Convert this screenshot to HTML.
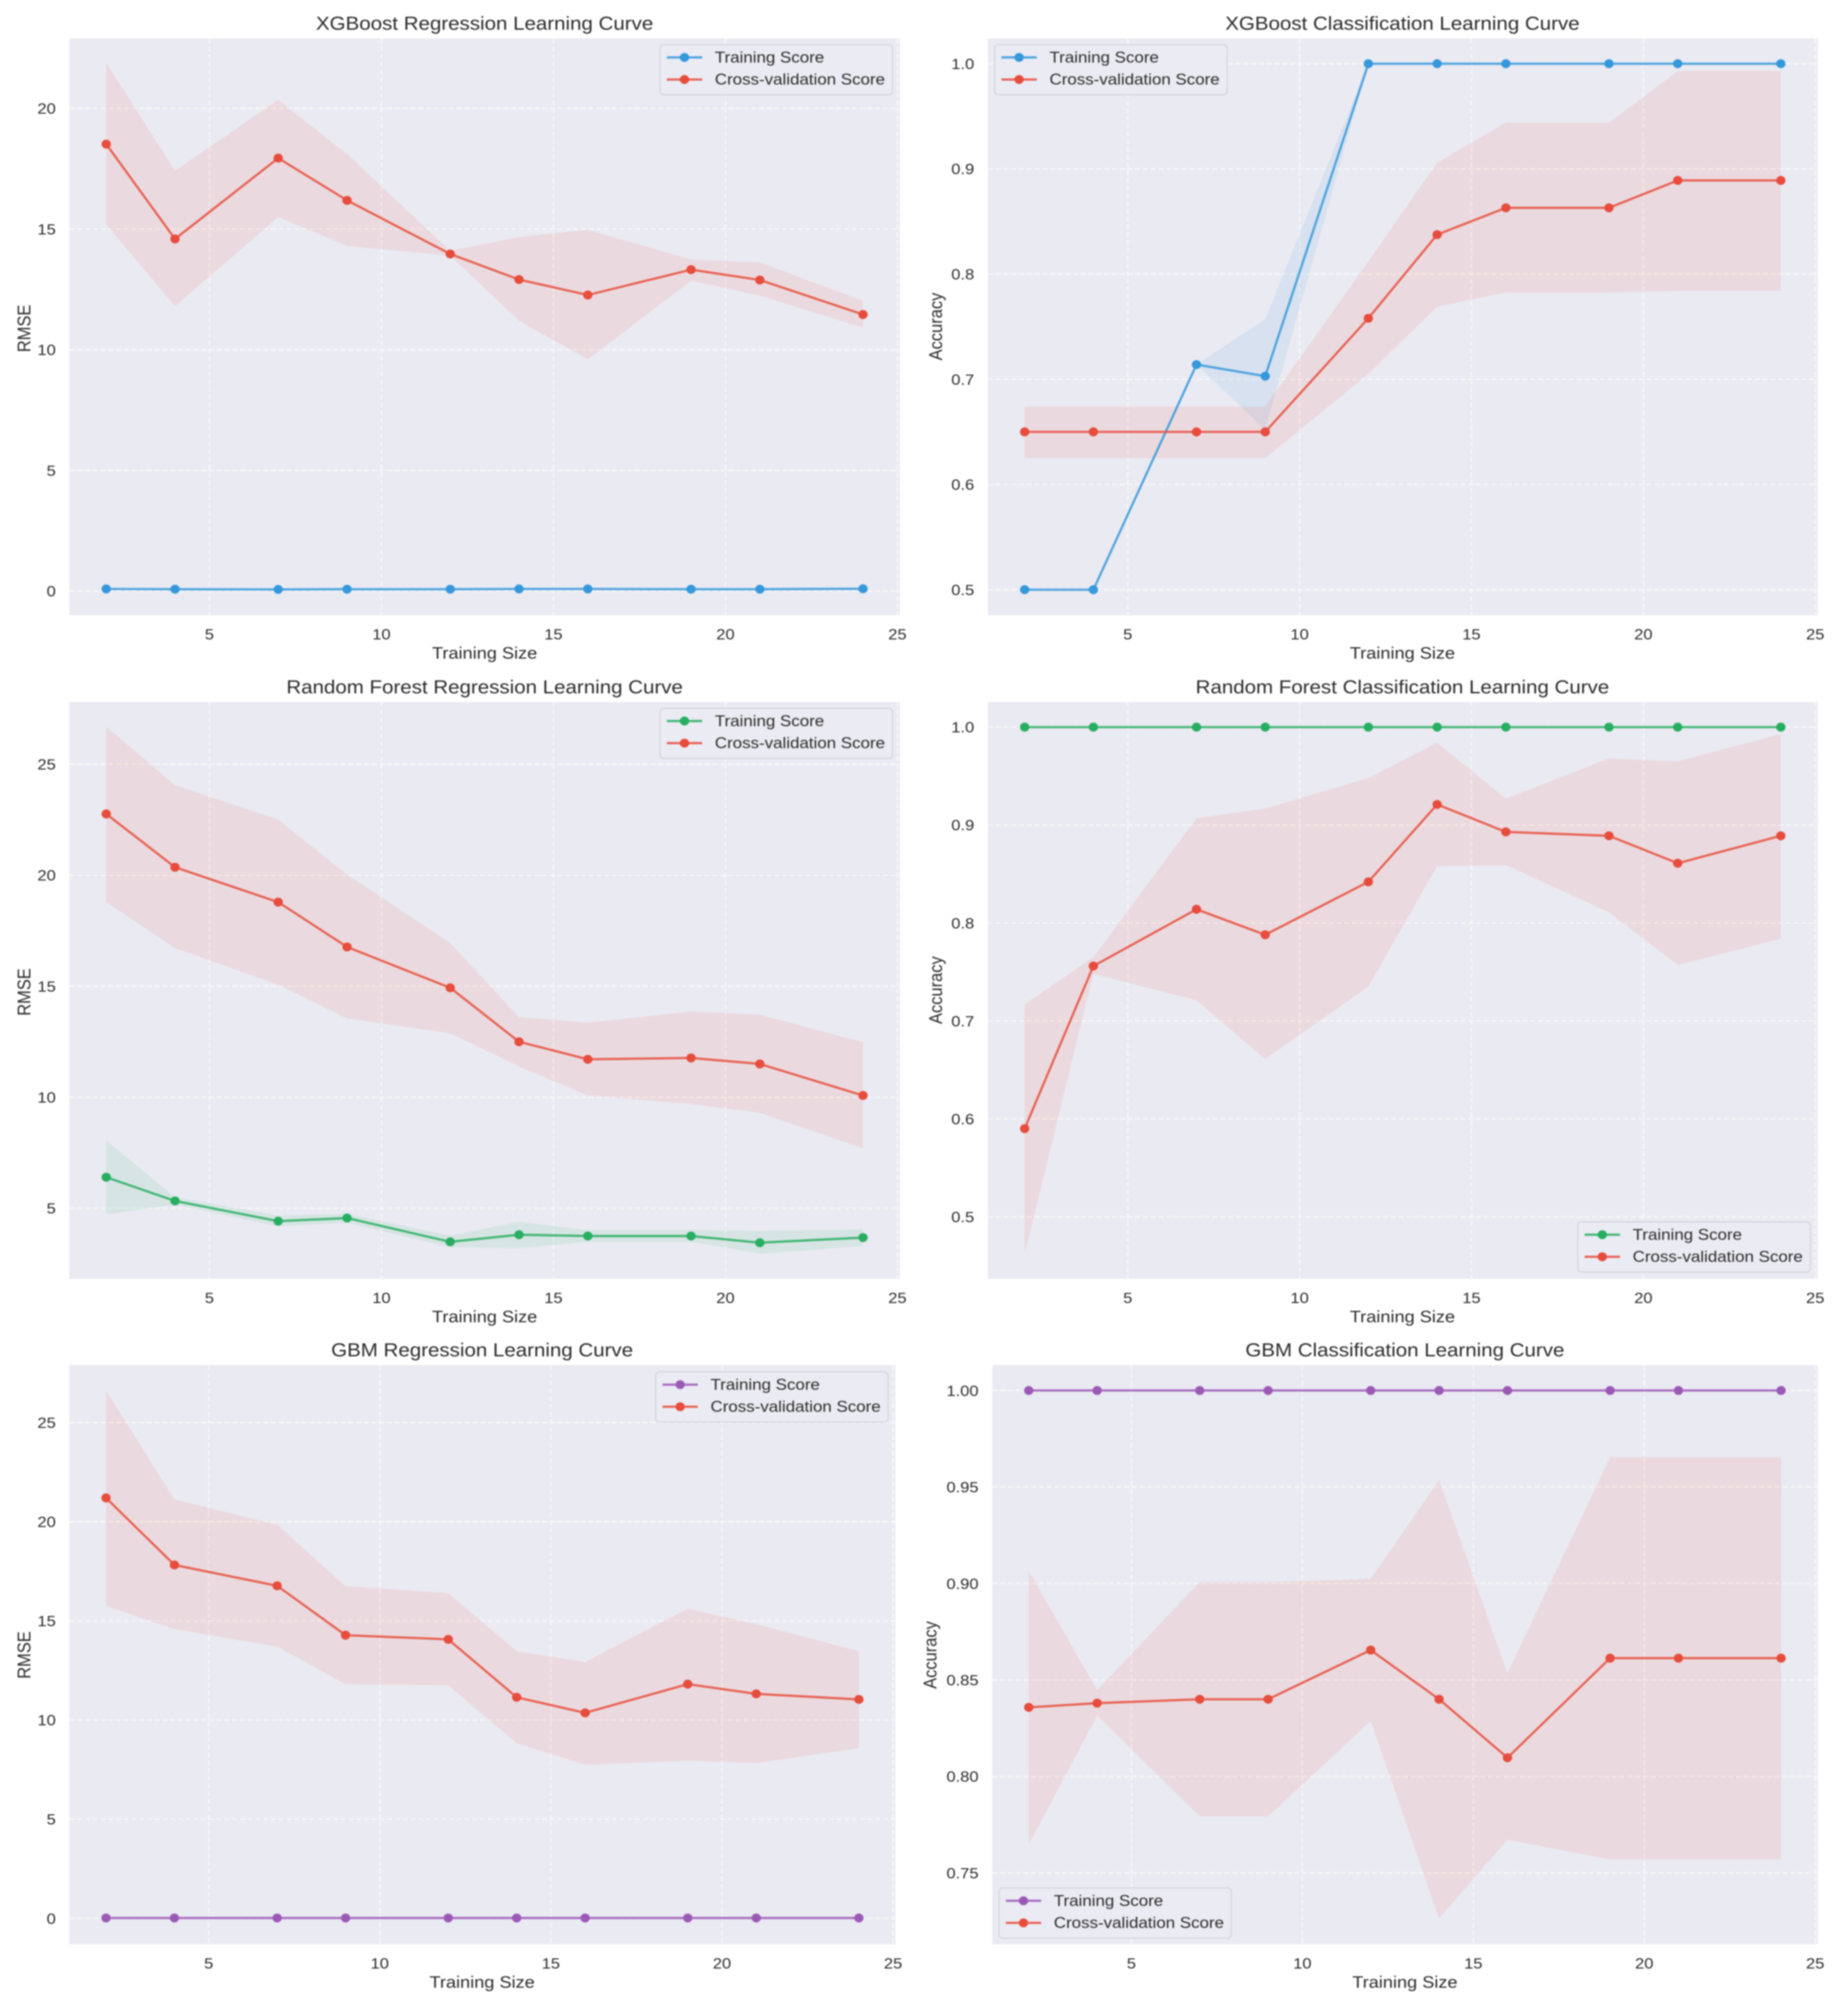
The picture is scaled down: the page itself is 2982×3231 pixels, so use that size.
<!DOCTYPE html>
<html lang="en">
<head>
<meta charset="utf-8">
<title>Learning Curves</title>
<style>
html,body{margin:0;padding:0;background:#fff;}
body{width:2982px;height:3231px;overflow:hidden;}
svg{display:block;filter:blur(1px);}
text{font-family:"Liberation Sans",Arial,sans-serif;fill:#2c2c2c;}
.title{font-size:33.1px;text-anchor:middle;}
.xlabel{font-size:29.3px;text-anchor:middle;}
.ylabel{font-size:26.6px;text-anchor:middle;}
.tick{font-size:26.6px;}
.leg{font-size:27.3px;}
.legbox{fill:#ebebf3;stroke:#d6d6de;stroke-width:2;}
</style>
</head>
<body>
<svg id="figure" xmlns="http://www.w3.org/2000/svg" width="2982" height="3231" viewBox="0 0 2982 3231">
<rect x="0" y="0" width="2982" height="3231" fill="#ffffff"/>

<g>
  <g id="plot-xgb-reg"></g>
  <text class="title" transform="translate(782,48) scale(1,0.91)">XGBoost Regression Learning Curve</text>
  <text class="xlabel" transform="translate(782,1063) scale(1,0.91)">Training Size</text>
  <text class="ylabel" transform="translate(49,530) rotate(-90) scale(1,1.1)">RMSE</text>
  <g transform="translate(1065,72)">
    <rect class="legbox" width="375" height="81" rx="6"/>
    <line x1="11" x2="68" y1="20.7" y2="20.7" stroke="#3498db" stroke-width="3.6" stroke-opacity="0.85"/>
    <ellipse cx="39.5" cy="20.7" rx="7.5" ry="7.2" fill="#3498db"/>
    <text class="leg" transform="translate(88.5,29) scale(1,0.91)">Training Score</text>
    <line x1="11" x2="68" y1="56.3" y2="56.3" stroke="#e74c3c" stroke-width="3.6" stroke-opacity="0.85"/>
    <ellipse cx="39.5" cy="56.3" rx="7.5" ry="7.2" fill="#e74c3c"/>
    <text class="leg" transform="translate(88.5,64.5) scale(1,0.91)">Cross-validation Score</text>
  </g>
</g>

<g>
  <g id="plot-xgb-clf"></g>
  <text class="title" transform="translate(2263,48) scale(1,0.91)">XGBoost Classification Learning Curve</text>
  <text class="xlabel" transform="translate(2263,1063) scale(1,0.91)">Training Size</text>
  <text class="ylabel" transform="translate(1520,527) rotate(-90) scale(1,1.1)">Accuracy</text>
  <g transform="translate(1605,72)">
    <rect class="legbox" width="375" height="81" rx="6"/>
    <line x1="11" x2="68" y1="20.7" y2="20.7" stroke="#3498db" stroke-width="3.6" stroke-opacity="0.85"/>
    <ellipse cx="39.5" cy="20.7" rx="7.5" ry="7.2" fill="#3498db"/>
    <text class="leg" transform="translate(88.5,29) scale(1,0.91)">Training Score</text>
    <line x1="11" x2="68" y1="56.3" y2="56.3" stroke="#e74c3c" stroke-width="3.6" stroke-opacity="0.85"/>
    <ellipse cx="39.5" cy="56.3" rx="7.5" ry="7.2" fill="#e74c3c"/>
    <text class="leg" transform="translate(88.5,64.5) scale(1,0.91)">Cross-validation Score</text>
  </g>
</g>

<g>
  <g id="plot-rf-reg"></g>
  <text class="title" transform="translate(782,1119) scale(1,0.91)">Random Forest Regression Learning Curve</text>
  <text class="xlabel" transform="translate(782,2134) scale(1,0.91)">Training Size</text>
  <text class="ylabel" transform="translate(49,1601) rotate(-90) scale(1,1.1)">RMSE</text>
  <g transform="translate(1065,1143)">
    <rect class="legbox" width="375" height="81" rx="6"/>
    <line x1="11" x2="68" y1="20.7" y2="20.7" stroke="#27ae60" stroke-width="3.6" stroke-opacity="0.85"/>
    <ellipse cx="39.5" cy="20.7" rx="7.5" ry="7.2" fill="#27ae60"/>
    <text class="leg" transform="translate(88.5,29) scale(1,0.91)">Training Score</text>
    <line x1="11" x2="68" y1="56.3" y2="56.3" stroke="#e74c3c" stroke-width="3.6" stroke-opacity="0.85"/>
    <ellipse cx="39.5" cy="56.3" rx="7.5" ry="7.2" fill="#e74c3c"/>
    <text class="leg" transform="translate(88.5,64.5) scale(1,0.91)">Cross-validation Score</text>
  </g>
</g>

<g>
  <g id="plot-rf-clf"></g>
  <text class="title" transform="translate(2263,1119) scale(1,0.91)">Random Forest Classification Learning Curve</text>
  <text class="xlabel" transform="translate(2263,2134) scale(1,0.91)">Training Size</text>
  <text class="ylabel" transform="translate(1520,1598) rotate(-90) scale(1,1.1)">Accuracy</text>
  <g transform="translate(2546,1972)">
    <rect class="legbox" width="375" height="81" rx="6"/>
    <line x1="11" x2="68" y1="20.7" y2="20.7" stroke="#27ae60" stroke-width="3.6" stroke-opacity="0.85"/>
    <ellipse cx="39.5" cy="20.7" rx="7.5" ry="7.2" fill="#27ae60"/>
    <text class="leg" transform="translate(88.5,29) scale(1,0.91)">Training Score</text>
    <line x1="11" x2="68" y1="56.3" y2="56.3" stroke="#e74c3c" stroke-width="3.6" stroke-opacity="0.85"/>
    <ellipse cx="39.5" cy="56.3" rx="7.5" ry="7.2" fill="#e74c3c"/>
    <text class="leg" transform="translate(88.5,64.5) scale(1,0.91)">Cross-validation Score</text>
  </g>
</g>

<g>
  <g id="plot-gbm-reg"></g>
  <text class="title" transform="translate(778,2189) scale(1,0.91)">GBM Regression Learning Curve</text>
  <text class="xlabel" transform="translate(778,3208) scale(1,0.91)">Training Size</text>
  <text class="ylabel" transform="translate(49,2671) rotate(-90) scale(1,1.1)">RMSE</text>
  <g transform="translate(1058,2214)">
    <rect class="legbox" width="375" height="81" rx="6"/>
    <line x1="11" x2="68" y1="20.7" y2="20.7" stroke="#9b59b6" stroke-width="3.6" stroke-opacity="0.85"/>
    <ellipse cx="39.5" cy="20.7" rx="7.5" ry="7.2" fill="#9b59b6"/>
    <text class="leg" transform="translate(88.5,29) scale(1,0.91)">Training Score</text>
    <line x1="11" x2="68" y1="56.3" y2="56.3" stroke="#e74c3c" stroke-width="3.6" stroke-opacity="0.85"/>
    <ellipse cx="39.5" cy="56.3" rx="7.5" ry="7.2" fill="#e74c3c"/>
    <text class="leg" transform="translate(88.5,64.5) scale(1,0.91)">Cross-validation Score</text>
  </g>
</g>

<g>
  <g id="plot-gbm-clf"></g>
  <text class="title" transform="translate(2267,2189) scale(1,0.91)">GBM Classification Learning Curve</text>
  <text class="xlabel" transform="translate(2267,3208) scale(1,0.91)">Training Size</text>
  <text class="ylabel" transform="translate(1511,2671) rotate(-90) scale(1,1.1)">Accuracy</text>
  <g transform="translate(1612,3047)">
    <rect class="legbox" width="375" height="81" rx="6"/>
    <line x1="11" x2="68" y1="20.7" y2="20.7" stroke="#9b59b6" stroke-width="3.6" stroke-opacity="0.85"/>
    <ellipse cx="39.5" cy="20.7" rx="7.5" ry="7.2" fill="#9b59b6"/>
    <text class="leg" transform="translate(88.5,29) scale(1,0.91)">Training Score</text>
    <line x1="11" x2="68" y1="56.3" y2="56.3" stroke="#e74c3c" stroke-width="3.6" stroke-opacity="0.85"/>
    <ellipse cx="39.5" cy="56.3" rx="7.5" ry="7.2" fill="#e74c3c"/>
    <text class="leg" transform="translate(88.5,64.5) scale(1,0.91)">Cross-validation Score</text>
  </g>
</g>
</svg>

<script>
// ---- shared categories and tick labels ----
const trainingSizes = [2, 4, 7, 9, 12, 14, 16, 19, 21, 24];
const xTickLabels = ['5', '10', '15', '20', '25'];
const xDomain = [0.93, 25.07];

// ---- XGBoost regression ----
const xgbRegTrain = [0.09, 0.08, 0.07, 0.08, 0.08, 0.09, 0.09, 0.08, 0.08, 0.10];
const xgbRegTrainUpper = [0.11, 0.1, 0.09, 0.1, 0.1, 0.11, 0.11, 0.1, 0.1, 0.12];
const xgbRegTrainLower = [0.07, 0.06, 0.05, 0.06, 0.06, 0.07, 0.07, 0.06, 0.06, 0.08];
const xgbRegCv = [18.52, 14.59, 17.94, 16.19, 13.97, 12.91, 12.27, 13.32, 12.89, 11.46];
const xgbRegCvUpper = [21.89, 17.42, 20.35, 18.11, 14.1, 14.67, 14.97, 13.74, 13.62, 12.03];
const xgbRegCvLower = [15.19, 11.8, 15.5, 14.3, 13.9, 11.2, 9.6, 12.86, 12.24, 10.92];
const xgbRegYTicks = ['0', '5', '10', '15', '20'];
const xgbRegYDomain = [-1.0, 22.9];

// ---- XGBoost classification ----
const xgbClfTrain = [0.5, 0.5, 0.714, 0.703, 1, 1, 1, 1, 1, 1];
const xgbClfTrainUpper = [0.5, 0.5, 0.714, 0.757, 1, 1, 1, 1, 1, 1];
const xgbClfTrainLower = [0.5, 0.5, 0.714, 0.652, 1, 1, 1, 1, 1, 1];
const xgbClfCv = [0.65, 0.65, 0.65, 0.65, 0.758, 0.8375, 0.863, 0.863, 0.889, 0.889];
const xgbClfCvUpper = [0.674, 0.674, 0.674, 0.674, 0.812, 0.906, 0.944, 0.944, 0.993, 0.993];
const xgbClfCvLower = [0.625, 0.625, 0.625, 0.625, 0.705, 0.769, 0.7825, 0.7825, 0.784, 0.784];
const xgbClfYTicks = ['0.5', '0.6', '0.7', '0.8', '0.9', '1.0'];
const xgbClfYDomain = [0.4757, 1.024];

// ---- Random forest regression ----
const rfRegTrain = [6.4, 5.33, 4.42, 4.56, 3.49, 3.81, 3.75, 3.75, 3.45, 3.68];
const rfRegTrainUpper = [8.05, 5.5, 4.67, 4.75, 3.77, 4.39, 4.02, 4.02, 3.98, 4.04];
const rfRegTrainLower = [4.73, 5.17, 4.19, 4.35, 3.25, 3.2, 3.5, 3.5, 2.95, 3.31];
const rfRegCv = [22.76, 20.36, 18.79, 16.77, 14.93, 12.5, 11.71, 11.77, 11.5, 10.08];
const rfRegCvUpper = [26.69, 24.06, 22.5, 20.03, 16.95, 13.61, 13.36, 13.86, 13.72, 12.48];
const rfRegCvLower = [18.79, 16.72, 15.07, 13.55, 12.88, 11.39, 10.08, 9.7, 9.3, 7.7];
const rfRegYTicks = ['5', '10', '15', '20', '25'];
const rfRegYDomain = [1.82, 27.8];

// ---- Random forest classification ----
const rfClfTrain = [1, 1, 1, 1, 1, 1, 1, 1, 1, 1];
const rfClfTrainUpper = [1, 1, 1, 1, 1, 1, 1, 1, 1, 1];
const rfClfTrainLower = [1, 1, 1, 1, 1, 1, 1, 1, 1, 1];
const rfClfCv = [0.59, 0.756, 0.814, 0.788, 0.842, 0.921, 0.893, 0.889, 0.861, 0.889];
const rfClfCvUpper = [0.717, 0.765, 0.907, 0.917, 0.948, 0.984, 0.927, 0.968, 0.965, 0.993];
const rfClfCvLower = [0.462, 0.748, 0.721, 0.661, 0.735, 0.858, 0.859, 0.811, 0.757, 0.784];
const rfClfYTicks = ['0.5', '0.6', '0.7', '0.8', '0.9', '1.0'];
const rfClfYDomain = [0.4366, 1.0256];

// ---- GBM regression ----
const gbmRegTrain = [0.02, 0.02, 0.02, 0.02, 0.02, 0.02, 0.02, 0.02, 0.02, 0.02];
const gbmRegTrainUpper = [0.03, 0.03, 0.03, 0.03, 0.03, 0.03, 0.03, 0.03, 0.03, 0.03];
const gbmRegTrainLower = [0.01, 0.01, 0.01, 0.01, 0.01, 0.01, 0.01, 0.01, 0.01, 0.01];
const gbmRegCv = [21.2, 17.82, 16.77, 14.28, 14.07, 11.15, 10.36, 11.81, 11.32, 11.04];
const gbmRegCvUpper = [26.63, 21.12, 19.85, 16.75, 16.4, 13.47, 12.93, 15.61, 14.84, 13.47];
const gbmRegCvLower = [15.76, 14.58, 13.7, 11.81, 11.75, 8.83, 7.74, 7.95, 7.83, 8.58];
const gbmRegYTicks = ['0', '5', '10', '15', '20', '25'];
const gbmRegYDomain = [-1.31, 27.9];

// ---- GBM classification ----
const gbmClfTrain = [1, 1, 1, 1, 1, 1, 1, 1, 1, 1];
const gbmClfTrainUpper = [1, 1, 1, 1, 1, 1, 1, 1, 1, 1];
const gbmClfTrainLower = [1, 1, 1, 1, 1, 1, 1, 1, 1, 1];
const gbmClfCv = [0.8358, 0.838, 0.84, 0.84, 0.8655, 0.84, 0.8097, 0.8613, 0.8613, 0.8613];
const gbmClfCvUpper = [0.9065, 0.8448, 0.9008, 0.9008, 0.9023, 0.9537, 0.8536, 0.9654, 0.9654, 0.9654];
const gbmClfCvLower = [0.7646, 0.8316, 0.7793, 0.7793, 0.8287, 0.7264, 0.7672, 0.757, 0.757, 0.757];
const gbmClfYTicks = ['0.75', '0.80', '0.85', '0.90', '0.95', '1.00'];
const gbmClfYDomain = [0.713, 1.0132];

const SVG_NS = 'http://www.w3.org/2000/svg';
const CV_COLOR = '#e74c3c';

function make(parent, tag, attrs) {
  const node = document.createElementNS(SVG_NS, tag);
  for (const key in attrs) node.setAttribute(key, attrs[key]);
  parent.appendChild(node);
  return node;
}

function linear(domain, r0, r1) {
  return function (v) {
    return r0 + (v - domain[0]) / (domain[1] - domain[0]) * (r1 - r0);
  };
}

function drawBand(g, sx, sy, upper, lower, color, name) {
  let d = '';
  trainingSizes.forEach(function (s, i) {
    d += (i ? 'L' : 'M') + sx(s).toFixed(1) + ' ' + sy(upper[i]).toFixed(1);
  });
  for (let i = trainingSizes.length - 1; i >= 0; i--) {
    d += 'L' + sx(trainingSizes[i]).toFixed(1) + ' ' + sy(lower[i]).toFixed(1);
  }
  const el = make(g, 'path', { d: d + 'Z', fill: color, 'fill-opacity': 0.1 });
  
  
}

function drawSeries(g, sx, sy, values, color, name) {
  const pts = values.map(function (v, i) {
    return sx(trainingSizes[i]).toFixed(1) + ',' + sy(v).toFixed(1);
  }).join(' ');
  const line = make(g, 'polyline', { points: pts, fill: 'none', stroke: color, 'stroke-width': 3.6, 'stroke-opacity': 0.85, 'stroke-linejoin': 'round' });
  
  
  values.forEach(function (v, i) {
    const dot = make(g, 'ellipse', { cx: sx(trainingSizes[i]).toFixed(1), cy: sy(v).toFixed(1), rx: 7.5, ry: 7.2, fill: color });
    
    
  });
}

function drawPanel(id, box, yDomain, yTicks, color, train, trainUpper, trainLower, cv, cvUpper, cvLower) {
  const g = document.getElementById(id);
  const sx = linear(xDomain, box.left, box.right);
  const sy = linear(yDomain, box.bottom, box.top);

  const bg = make(g, 'rect', { x: box.left, y: box.top, width: box.right - box.left, height: box.bottom - box.top, fill: '#eaeaf2' });
  
  

  yTicks.forEach(function (label) {
    const y = sy(Number(label));
    const grid = make(g, 'line', { x1: box.left, x2: box.right, y1: y, y2: y, stroke: '#fff', 'stroke-width': 2.4, 'stroke-opacity': 0.55, 'stroke-dasharray': '8.5 4' });
    
    
    const t = make(g, 'text', { class: 'tick', 'text-anchor': 'end', transform: 'translate(' + (box.left - 22) + ',' + (y + 8.7).toFixed(1) + ') scale(1,0.91)' });
    t.textContent = label;
    
    
  });

  xTickLabels.forEach(function (label) {
    const x = sx(Number(label));
    const grid = make(g, 'line', { x1: x, x2: x, y1: box.top, y2: box.bottom, stroke: '#fff', 'stroke-width': 2.4, 'stroke-opacity': 0.55, 'stroke-dasharray': '8.5 4' });
    
    
    const t = make(g, 'text', { class: 'tick', 'text-anchor': 'middle', transform: 'translate(' + x.toFixed(1) + ',' + (box.bottom + 39) + ') scale(1,0.91)' });
    t.textContent = label;
    
    
  });

  drawBand(g, sx, sy, trainUpper, trainLower, color, 'training-score-band');
  drawBand(g, sx, sy, cvUpper, cvLower, CV_COLOR, 'cross-validation-band');
  drawSeries(g, sx, sy, train, color, 'training-score');
  drawSeries(g, sx, sy, cv, CV_COLOR, 'cross-validation-score');
}

drawPanel('plot-xgb-reg', { left: 112, right: 1452, top: 62, bottom: 993 }, xgbRegYDomain, xgbRegYTicks, '#3498db',
  xgbRegTrain, xgbRegTrainUpper, xgbRegTrainLower, xgbRegCv, xgbRegCvUpper, xgbRegCvLower);
drawPanel('plot-xgb-clf', { left: 1594, right: 2933, top: 62, bottom: 993 }, xgbClfYDomain, xgbClfYTicks, '#3498db',
  xgbClfTrain, xgbClfTrainUpper, xgbClfTrainLower, xgbClfCv, xgbClfCvUpper, xgbClfCvLower);
drawPanel('plot-rf-reg', { left: 112, right: 1452, top: 1133, bottom: 2064 }, rfRegYDomain, rfRegYTicks, '#27ae60',
  rfRegTrain, rfRegTrainUpper, rfRegTrainLower, rfRegCv, rfRegCvUpper, rfRegCvLower);
drawPanel('plot-rf-clf', { left: 1594, right: 2933, top: 1133, bottom: 2064 }, rfClfYDomain, rfClfYTicks, '#27ae60',
  rfClfTrain, rfClfTrainUpper, rfClfTrainLower, rfClfCv, rfClfCvUpper, rfClfCvLower);
drawPanel('plot-gbm-reg', { left: 112, right: 1445, top: 2203, bottom: 3138 }, gbmRegYDomain, gbmRegYTicks, '#9b59b6',
  gbmRegTrain, gbmRegTrainUpper, gbmRegTrainLower, gbmRegCv, gbmRegCvUpper, gbmRegCvLower);
drawPanel('plot-gbm-clf', { left: 1601, right: 2933, top: 2203, bottom: 3138 }, gbmClfYDomain, gbmClfYTicks, '#9b59b6',
  gbmClfTrain, gbmClfTrainUpper, gbmClfTrainLower, gbmClfCv, gbmClfCvUpper, gbmClfCvLower);
</script>
</body>
</html>
